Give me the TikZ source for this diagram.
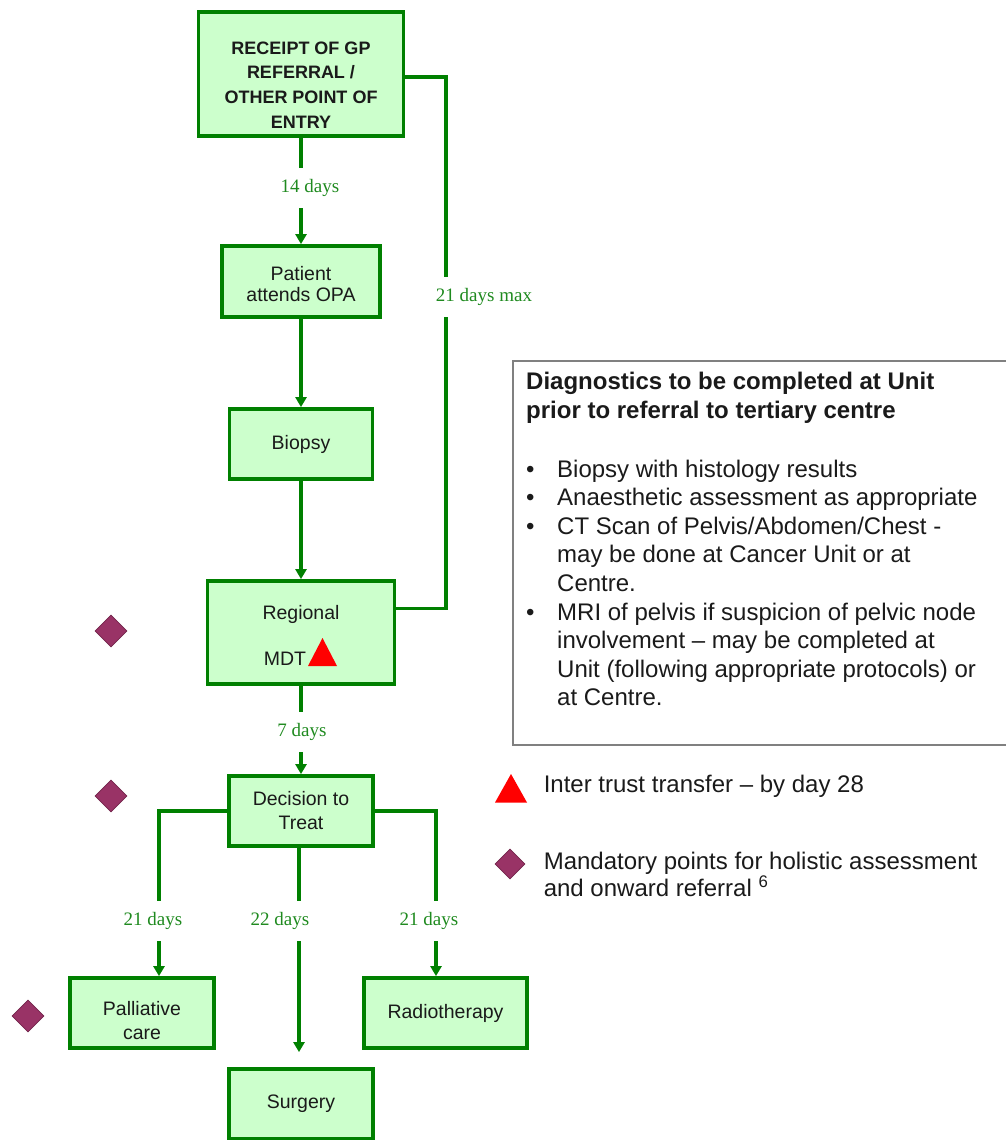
\documentclass[tikz,border=0pt]{standalone}
\usepackage{fontspec}
\setmainfont{Liberation Sans}
\newfontfamily\lserif{Liberation Serif}
\usetikzlibrary{arrows.meta,shapes.geometric,calc}
\definecolor{boxgreen}{HTML}{008000}
\definecolor{boxfill}{HTML}{CCFFCC}
\definecolor{labgreen}{HTML}{1F8A1F}
\definecolor{mandpurple}{HTML}{993366}
\definecolor{infogray}{HTML}{808080}
\definecolor{txt}{HTML}{1A1A1A}
\begin{document}
\begin{tikzpicture}[x=1pt,y=-1pt,
  flowbox/.style={draw=boxgreen, fill=boxfill, line width=3.8pt, align=center, inner sep=0pt, text=txt, font=\fontsize{19.5}{24}\selectfont},
  conn/.style={draw=boxgreen, line width=3.3pt},
  arr/.style={conn, -{Triangle[width=11pt,length=10pt]}},
  daylabel/.style={text=labgreen, font=\lserif\fontsize{19}{22}\selectfont, inner sep=0pt, minimum height=40pt},
  mandatory/.style={diamond, fill=mandpurple, draw=mandpurple!75!black, line width=0.6pt, minimum width=32pt, minimum height=32pt, inner sep=0pt},
  plaintext/.style={inner sep=0pt, text=txt, anchor=base west},
]
\useasboundingbox (0,0) rectangle (1005,1140);

% flow boxes
\node[flowbox, minimum width=205pt, minimum height=124pt] (rec) at (301,74) {};
\node[inner sep=0pt, align=center, text=txt, font=\bfseries\fontsize{18}{24.7}\selectfont] (rectxt) at (301,85) {RECEIPT OF GP\\REFERRAL /\\OTHER POINT OF\\ENTRY};
\node[flowbox, minimum width=158pt, minimum height=71pt] (pat) at (301,281.5) {\rule{0pt}{19.5pt}Patient\\[-3pt]attends OPA};
\node[flowbox, minimum width=143pt, minimum height=70pt] (bio) at (301,444) {Biopsy};
\node[flowbox, minimum width=187pt, minimum height=103pt] (reg) at (301,632.5) {\rule{0pt}{20pt}Regional\\[22pt]MDT\hspace*{32pt}};
\node[flowbox, minimum width=144pt, minimum height=70pt] (dec) at (301,811) {Decision to\\Treat};
\node[flowbox, minimum width=144pt, minimum height=70pt] (pal) at (142,1013) {\rule{0pt}{30pt}Palliative\\care};
\node[flowbox, minimum width=163pt, minimum height=70pt] (rad) at (445.5,1013) {Radiotherapy};
\node[flowbox, minimum width=144pt, minimum height=70pt] (sur) at (301,1104) {Surgery};

% day labels
\node[daylabel] (l14) at (310,188) {14 days};
\node[daylabel] (l21m) at (484,297) {21 days max};
\node[daylabel] (l7) at (302,732) {7 days};
\node[daylabel] (l21a) at (153,921) {21 days};
\node[daylabel] (l22) at (280,921) {22 days};
\node[daylabel] (l21b) at (429,921) {21 days};

% helper coordinates
\coordinate (side) at (446,0);
\coordinate (recout) at ([yshift=-3pt]rec.east);
\coordinate (regin) at ([yshift=24pt]reg.east);
\coordinate (bl) at (159,0);
\coordinate (br) at (436,0);
\coordinate (bm) at (299,0);

% connectors
\draw[conn] (rec.south) -- (rec.south |- l14.north);
\draw[arr] (rec.south |- l14.south) -- (pat.north);
\draw[conn] (recout) -- (recout -| side) -- (side |- l21m.north);
\draw[conn] (side |- l21m.south) -- (side |- regin) -- (regin);
\draw[arr] (pat.south) -- (bio.north);
\draw[arr] (bio.south) -- (reg.north);
\draw[conn] (reg.south) -- (reg.south |- l7.north);
\draw[arr] (reg.south |- l7.south) -- (dec.north);
\draw[conn] (dec.west) -- (dec.west -| bl) -- (bl |- l21a.north);
\draw[arr] (bl |- l21a.south) -- (bl |- pal.north);
\draw[conn] (dec.east) -- (dec.east -| br) -- (br |- l21b.north);
\draw[arr] (br |- l21b.south) -- (br |- rad.north);
\draw[conn] (bm |- dec.south) -- (bm |- l22.north);
\draw[arr, shorten >=15pt] (bm |- l22.south) -- (bm |- sur.north);

% markers
\fill[red] (308,666) -- (337,666) -- (322.5,638) -- cycle;
\node[mandatory] (m1) at (111,631) {};
\node[mandatory] (m2) at (111,796) {};
\node[mandatory] (m3) at (28,1016) {};

% info box
\node[draw=infogray, line width=2pt, minimum width=510pt, minimum height=384pt, anchor=north west, inner sep=0pt] (info) at (512,360) {};
\node[plaintext, font=\bfseries\fontsize{24}{29}\selectfont] (infotitle) at (526,389.5) {\begin{tabular}[t]{@{}l@{}}Diagnostics to be completed at Unit\\prior to referral to tertiary centre\end{tabular}};
\node[plaintext, font=\fontsize{24}{28.6}\selectfont] (infolist) at (526,477) {\begin{tabular}[t]{@{}p{31pt}@{}l@{}}
\textbullet & Biopsy with histology results\\
\textbullet & Anaesthetic assessment as appropriate\\
\textbullet & CT Scan of Pelvis/Abdomen/Chest -\\
 & may be done at Cancer Unit or at\\
 & Centre.\\
\textbullet & MRI of pelvis if suspicion of pelvic node\\
 & involvement – may be completed at\\
 & Unit (following appropriate protocols) or\\
 & at Centre.
\end{tabular}};

% legend
\fill[red] (495,802.5) -- (527,802.5) -- (511,774) -- cycle;
\node[plaintext, font=\fontsize{24}{24}\selectfont] (legtri) at (543.6,792.5) {Inter trust transfer – by day 28};
\node[mandatory, minimum width=30pt, minimum height=30pt] (m4) at (510,864) {};
\node[plaintext, font=\fontsize{24}{23}\selectfont] (legdia) at (543.6,869) {\begin{tabular}[t]{@{}l@{}}Mandatory points for holistic assessment\\and onward referral \textsuperscript{6}\end{tabular}};
\end{tikzpicture}
\end{document}
